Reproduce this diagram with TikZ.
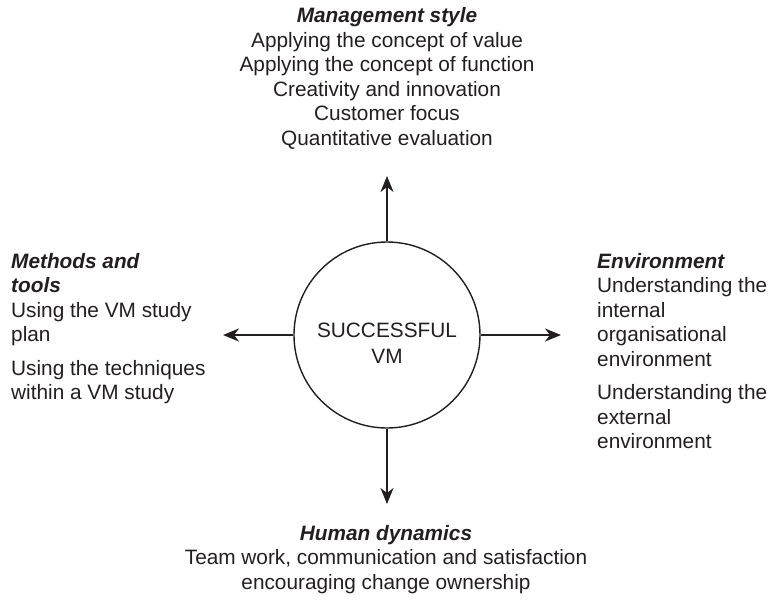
\documentclass[tikz,border=0pt]{standalone}
\usepackage{fontspec}
\setmainfont{Liberation Sans}
\usetikzlibrary{arrows.meta}
\definecolor{ink}{HTML}{231F20}
\tikzset{
  txt/.style={inner sep=0pt, text=ink, font=\fontsize{20.8}{24.5}\selectfont},
  arr/.style={draw=ink, line width=2.1pt, -{Stealth[length=16pt,width=13pt,inset=5pt]}},
  hub/.style={circle, draw=ink, line width=1.4pt, minimum size=186pt, inner sep=0pt}
}
\newcommand{\hd}[1]{\textbf{\textit{#1}}}
\begin{document}
\begin{tikzpicture}[x=1pt,y=-1pt]
\useasboundingbox (0,0) rectangle (771,600);
% hub
\node[hub] (c) at (387,335) {};
\node[txt, align=center] (ct) at (387,343.5) {SUCCESSFUL\\[1.5pt]VM};
% arrow ends
\coordinate (eTop) at (387,176);
\coordinate (eBot) at (387,504);
\coordinate (eLeft) at (223,335);
\coordinate (eRight) at (561,335);
\draw[arr] (c.north) -- (eTop);
\draw[arr] (c.south) -- (eBot);
\draw[arr] (c.west) -- (eLeft);
\draw[arr] (c.east) -- (eRight);
% text blocks
\node[txt, align=center, anchor=north] (top) at (387,7.5) {\hd{Management style}\\
Applying the concept of value\\
Applying the concept of function\\
Creativity and innovation\\
Customer focus\\
Quantitative evaluation};
\node[txt, align=left, anchor=north west] (left) at (11,253) {\hd{Methods and}\\
\hd{tools}\\
Using the VM study\\
plan\\[9pt]
Using the techniques\\
within a VM study};
\node[txt, align=left, anchor=north west] (right) at (597,253) {\hd{Environment}\\
Understanding the\\
internal\\
organisational\\
environment\\[9pt]
Understanding the\\
external\\
environment};
\node[txt, align=center, anchor=north] (bot) at (386,525) {\hd{Human dynamics}\\
Team work, communication and satisfaction\\
encouraging change ownership};
\end{tikzpicture}
\end{document}
